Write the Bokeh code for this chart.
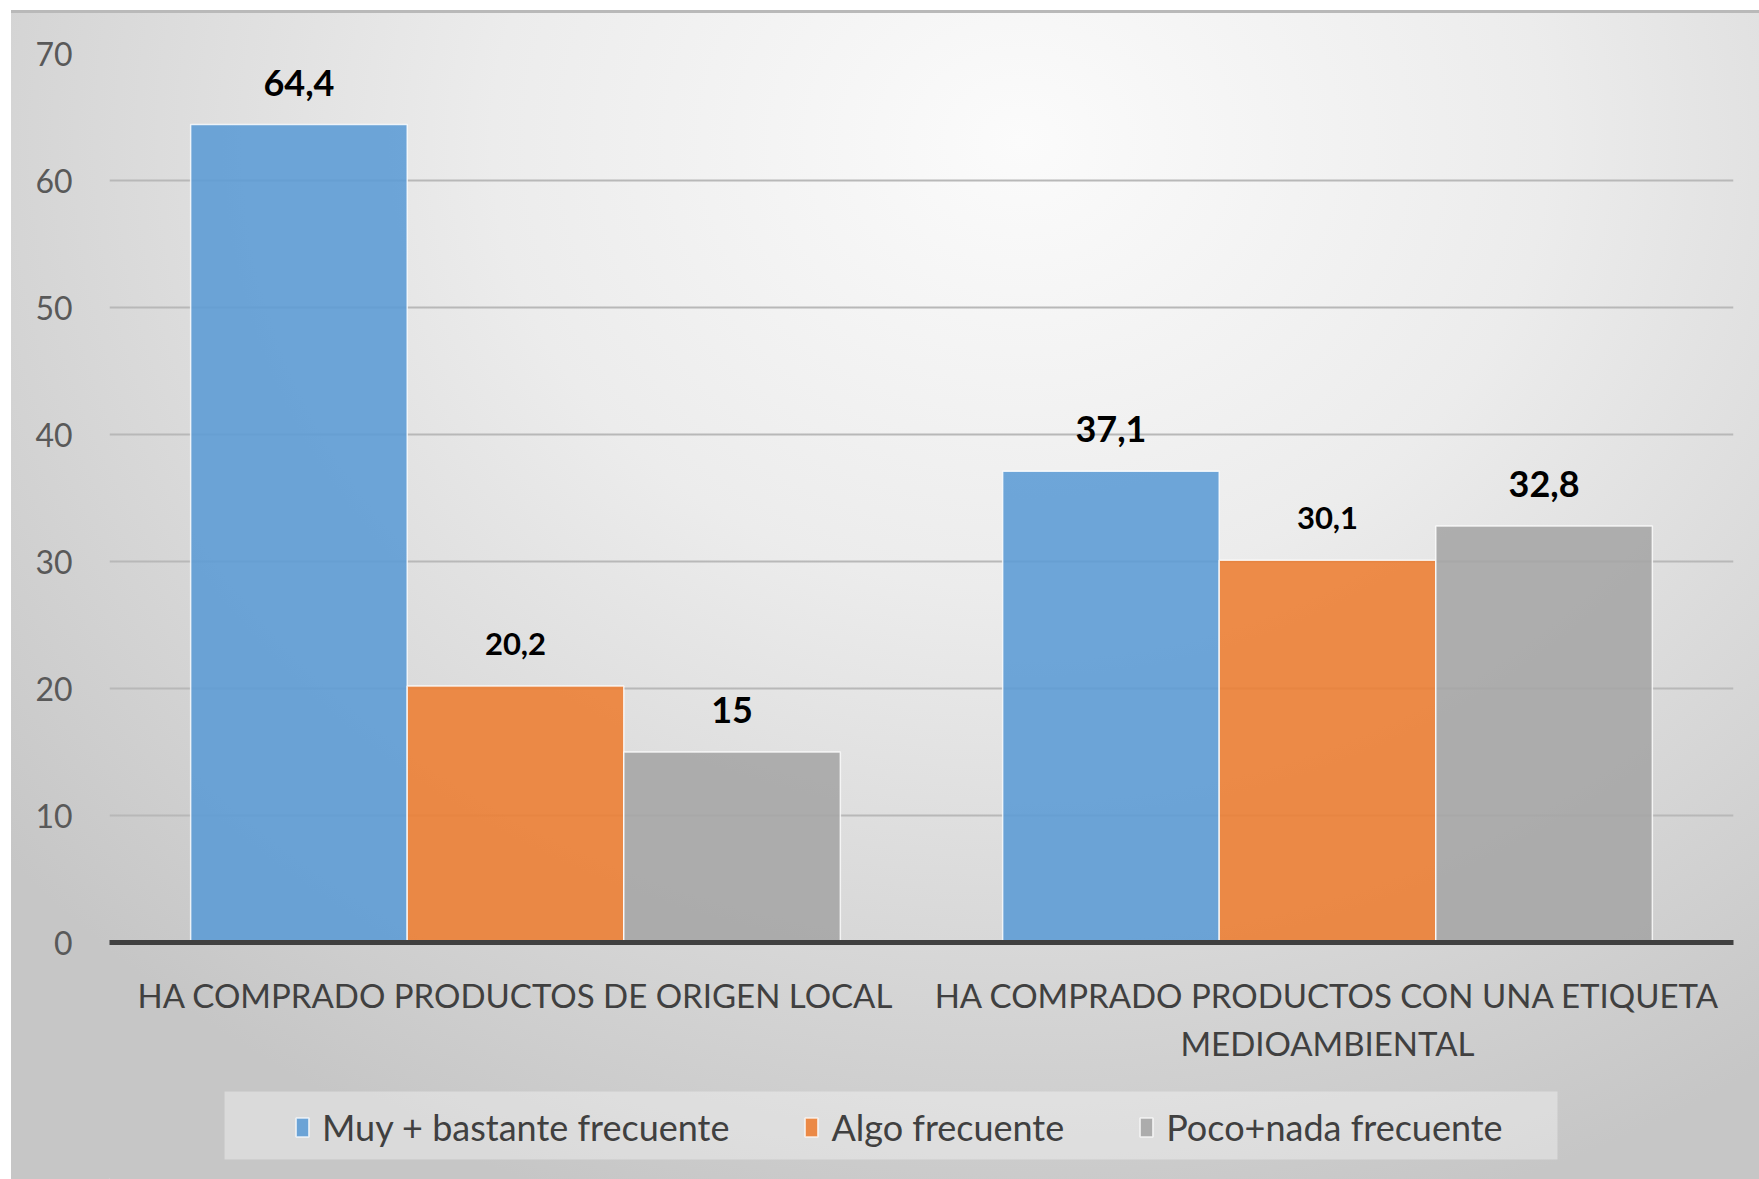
from bokeh.plotting import figure
from bokeh.layouts import column
from bokeh.models import FactorRange, Range1d, Legend, LegendItem, ColumnDataSource, FixedTicker
from bokeh.transform import dodge
from bokeh.core.properties import value
from bokeh.embed import file_html
from bokeh.resources import INLINE

categories = ["HA COMPRADO PRODUCTOS DE ORIGEN LOCAL",
              "HA COMPRADO PRODUCTOS CON UNA ETIQUETA\nMEDIOAMBIENTAL"]
series_names = ["Muy + bastante frecuente", "Algo frecuente", "Poco+nada frecuente"]
muy = [64.4, 37.1]
algo = [20.2, 30.1]
poco = [15.0, 32.8]
y_ticks = [0, 10, 20, 30, 40, 50, 60, 70]

colors = ["#5B9BD5", "#ED7D31", "#A5A5A5"]
label_sizes = ["36px", "31px", "36px"]
offsets = [-0.2667, 0.0, 0.2667]

def fmt(v):
    return f"{v:g}".replace(".", ",")

src = ColumnDataSource(dict(
    cat=categories,
    muy=muy, algo=algo, poco=poco,
    muy_l=[fmt(v) for v in muy],
    algo_l=[fmt(v) for v in algo],
    poco_l=[fmt(v) for v in poco],
))

W, H_MAIN, H_LEG = 1759, 1079, 100
FL, FR = 109, 26   # frame borders (left/right)

p = figure(width=W, height=H_MAIN, output_backend="svg", toolbar_location=None,
           x_range=FactorRange(factors=categories, range_padding=0),
           y_range=Range1d(0, 70),
           min_border_left=FL, min_border_right=FR, min_border_top=53, min_border_bottom=137)
p.border_fill_color = None
p.background_fill_color = None
p.outline_line_color = None

p.ygrid.grid_line_color = "#b8b8b8"
p.ygrid.grid_line_width = 2
p.xgrid.grid_line_color = None

for key, col, off, ls in zip(["muy", "algo", "poco"], colors, offsets, label_sizes):
    p.vbar(x=dodge("cat", off, range=p.x_range), top=key, width=0.2667, source=src,
           fill_color=col, fill_alpha=0.88, line_color="white", line_width=1.5, line_alpha=0.8)
    p.text(x=dodge("cat", off, range=p.x_range), y=key, text=key + "_l", source=src,
           y_offset=-42, text_align="center", text_baseline="middle",
           text_font=value("Lato"), text_font_style="bold", text_font_size=ls,
           text_color="#000000")

yax = p.yaxis[0]
yax.ticker = FixedTicker(ticks=y_ticks)
yax.axis_line_color = None
yax.major_tick_line_color = None
yax.minor_tick_line_color = None
yax.major_label_text_font = "Lato"
yax.major_label_text_font_size = "32px"
yax.major_label_text_color = "#595959"
yax.major_label_standoff = 31

xax = p.xaxis[0]
xax.axis_line_color = "#404040"
xax.axis_line_width = 5
xax.major_tick_line_color = None
xax.minor_tick_line_color = None
xax.major_label_text_font = "Lato"
xax.major_label_text_font_size = "33px"
xax.major_label_text_color = "#404040"
xax.major_label_standoff = 26
xax.major_label_text_line_height = 1.22

# legend strip: ranges in page pixels
lf = figure(width=W, height=H_LEG, output_backend="svg", toolbar_location=None,
            x_range=Range1d(FL, W - FR), y_range=Range1d(0, H_LEG),
            x_axis_location=None, y_axis_location=None,
            min_border_left=FL, min_border_right=FR, min_border_top=0, min_border_bottom=0)
lf.border_fill_color = None
lf.background_fill_color = None
lf.outline_line_color = None
lf.grid.grid_line_color = None

# legend background panel
lf.quad(left=[224], right=[1557], bottom=[20], top=[88],
        fill_color="white", fill_alpha=0.35, line_color=None)

items = []
for name, col in zip(series_names, colors):
    # legend proxy, kept outside the visible range
    r = lf.vbar(x=[-1000], top=[-1000], width=1, fill_color=col, fill_alpha=0.88,
                line_color="white", line_width=1.5, line_alpha=0.8)
    items.append(LegendItem(label=name, renderers=[r]))

legend = Legend(items=items, orientation="horizontal", location=(185, 30),
                label_text_font="Lato", label_text_font_size="36px", label_text_color="#404040",
                glyph_width=16, glyph_height=24, label_standoff=12, spacing=74,
                padding=10, margin=0,
                background_fill_color=None, border_line_color=None)
lf.add_layout(legend, "center")

layout = column(p, lf, spacing=0)
layout.styles = {
    "background":
        "linear-gradient(#ffffff, #ffffff) left top / 100% 10px no-repeat, "
        "linear-gradient(#ffffff, #ffffff) left top / 11px 100% no-repeat, "
        "linear-gradient(#b9b9b9, #b9b9b9) left 0 top 10px / 100% 3px no-repeat, "
        "radial-gradient(ellipse 75% 95% at 58% 12%, #fbfbfb 0%, #ececec 40%, #d9d9d9 70%, #c6c6c6 100%)"
}

open("out.html", "w").write(file_html(layout, INLINE))
